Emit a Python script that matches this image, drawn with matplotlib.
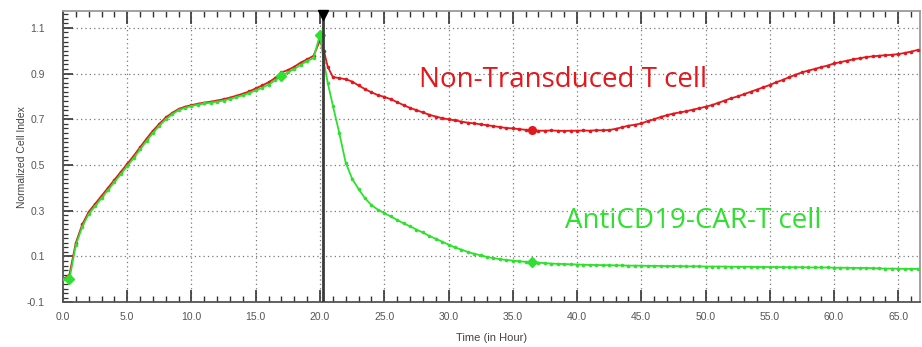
import matplotlib
matplotlib.use("Agg")
import matplotlib.pyplot as plt
from matplotlib.ticker import MultipleLocator, FixedLocator
import numpy as np

# time points (hours)
time_pre = [0.0, 0.5, 1.0, 1.5, 2.0, 2.5, 3.0, 3.5, 4.0, 4.5,
            5.0, 5.5, 6.0, 6.5, 7.0, 7.5, 8.0, 8.5, 9.0, 9.5,
            10.0, 10.5, 11.0, 11.5, 12.0, 12.5, 13.0, 13.5, 14.0, 14.5,
            15.0, 15.5, 16.0, 16.5, 17.0, 17.5, 18.0, 18.5, 19.0, 19.5, 20.0]
time_post = [20.3, 20.6, 21.0, 21.5, 22.0, 22.5, 23.0, 23.5, 24.0, 24.5,
             25.0, 25.5, 26.0, 26.5, 27.0, 27.5, 28.0, 28.5, 29.0, 29.5,
             30.0, 30.5, 31.0, 31.5, 32.0, 32.5, 33.0, 33.5, 34.0, 34.5,
             35.0, 35.5, 36.0, 36.5, 37.0, 37.5, 38.0, 38.5, 39.0, 39.5,
             40.0, 40.5, 41.0, 41.5, 42.0, 42.5, 43.0, 43.5, 44.0, 44.5,
             45.0, 45.5, 46.0, 46.5, 47.0, 47.5, 48.0, 48.5, 49.0, 49.5,
             50.0, 50.5, 51.0, 51.5, 52.0, 52.5, 53.0, 53.5, 54.0, 54.5,
             55.0, 55.5, 56.0, 56.5, 57.0, 57.5, 58.0, 58.5, 59.0, 59.5,
             60.0, 60.5, 61.0, 61.5, 62.0, 62.5, 63.0, 63.5, 64.0, 64.5,
             65.0, 65.5, 66.0, 66.5]

# Non-Transduced T cell
red_pre = [0.00, 0.02, 0.16, 0.24, 0.295, 0.33, 0.365, 0.40, 0.435, 0.47,
           0.505, 0.54, 0.578, 0.615, 0.65, 0.68, 0.708, 0.728, 0.745, 0.755,
           0.762, 0.768, 0.773, 0.777, 0.782, 0.788, 0.795, 0.803, 0.812, 0.822,
           0.835, 0.848, 0.862, 0.88, 0.905, 0.915, 0.93, 0.948, 0.962, 0.978, 1.045]
red_post = [1.00, 0.93, 0.885, 0.88, 0.875, 0.865, 0.848, 0.832, 0.818, 0.806,
            0.798, 0.788, 0.775, 0.762, 0.75, 0.74, 0.73, 0.72, 0.712, 0.705,
            0.70, 0.695, 0.69, 0.685, 0.682, 0.678, 0.674, 0.67, 0.666, 0.662,
            0.66, 0.657, 0.654, 0.652, 0.65, 0.65, 0.651, 0.65, 0.649, 0.65,
            0.65, 0.651, 0.65, 0.652, 0.652, 0.653, 0.658, 0.665, 0.672, 0.676,
            0.682, 0.692, 0.70, 0.71, 0.718, 0.725, 0.73, 0.735, 0.742, 0.748,
            0.755, 0.762, 0.772, 0.782, 0.792, 0.80, 0.81, 0.82, 0.83, 0.84,
            0.85, 0.862, 0.872, 0.884, 0.895, 0.905, 0.913, 0.92, 0.928, 0.935,
            0.944, 0.95, 0.956, 0.962, 0.967, 0.972, 0.975, 0.978, 0.98, 0.982,
            0.985, 0.99, 0.996, 1.003]

# AntiCD19-CAR-T cell
green_pre = [0.00, 0.00, 0.15, 0.23, 0.285, 0.32, 0.355, 0.39, 0.425, 0.46,
             0.495, 0.53, 0.568, 0.605, 0.64, 0.672, 0.70, 0.722, 0.74, 0.75,
             0.758, 0.764, 0.769, 0.773, 0.777, 0.782, 0.789, 0.797, 0.805, 0.815,
             0.826, 0.838, 0.852, 0.87, 0.89, 0.905, 0.92, 0.938, 0.955, 0.968, 1.07]
green_post = [0.95, 0.86, 0.76, 0.64, 0.51, 0.44, 0.395, 0.355, 0.325, 0.305,
              0.29, 0.275, 0.26, 0.245, 0.232, 0.218, 0.205, 0.19, 0.178, 0.165,
              0.152, 0.14, 0.13, 0.12, 0.112, 0.105, 0.098, 0.093, 0.088, 0.085,
              0.082, 0.079, 0.077, 0.075, 0.073, 0.071, 0.069, 0.068, 0.067, 0.066,
              0.065, 0.064, 0.063, 0.063, 0.062, 0.062, 0.061, 0.061, 0.060, 0.060,
              0.060, 0.059, 0.059, 0.059, 0.058, 0.058, 0.058, 0.057, 0.057, 0.057,
              0.056, 0.056, 0.056, 0.056, 0.055, 0.055, 0.055, 0.055, 0.054, 0.054,
              0.054, 0.054, 0.053, 0.053, 0.053, 0.053, 0.052, 0.052, 0.052, 0.052,
              0.051, 0.051, 0.051, 0.050, 0.050, 0.050, 0.049, 0.048, 0.047, 0.047,
              0.047, 0.046, 0.046, 0.046]

treat_time = 20.2
x_ticks = [0, 5, 10, 15, 20, 25, 30, 35, 40, 45, 50, 55, 60, 65]
y_ticks = [-0.1, 0.1, 0.3, 0.5, 0.7, 0.9, 1.1]

time = np.array(time_pre + time_post)
red = np.array(red_pre + red_post)
green = np.array(green_pre + green_post)

plt.rcParams['font.family'] = ['Liberation Sans', 'DejaVu Sans']

fig = plt.figure(figsize=(9.22, 3.47), dpi=100)
ax = fig.add_axes([0.0683, 0.129, 0.9297, 0.839])

red_c = "#e3171c"
green_c = "#2fe02f"
ax.plot(time, red, "-", color=red_c, lw=1.3, marker="o", markersize=2.6,
        markeredgewidth=0, zorder=3)
ax.plot(time, green, "-", color=green_c, lw=1.3, marker="o", markersize=2.6,
        markeredgewidth=0, zorder=4)
# highlighted points
ax.plot([36.5], [0.652], "o", color=red_c, markersize=5.5, zorder=5)
ax.plot([36.5, 17.0, 20.0, 0.5], [0.075, 0.89, 1.07, 0.00], "D", color=green_c,
        markersize=5, zorder=5)

ax.axvline(treat_time, color="#3a3a3a", lw=2.0, zorder=6)
ax.plot([treat_time], [1.158], marker="v", color="black", markersize=7,
        clip_on=False, zorder=7)

ax.set_xlim(0, 66.7)
ax.set_ylim(-0.1, 1.173)
ax.xaxis.set_major_locator(FixedLocator(x_ticks))
ax.xaxis.set_minor_locator(MultipleLocator(1))
ax.yaxis.set_major_locator(FixedLocator(y_ticks))
ax.yaxis.set_minor_locator(MultipleLocator(0.02))
ax.set_xticklabels([f"{v:.1f}" for v in x_ticks])
ax.set_yticklabels([f"{v:.1f}" for v in y_ticks])

ax.grid(True, which="major", linestyle=(0, (1, 2.5)), color="#7a7a7a", lw=0.9)
ax.tick_params(axis="x", which="both", direction="in", top=True, bottom=True,
               colors="#333333", labelcolor="#555555", labelsize=7.5, pad=7)
ax.tick_params(axis="x", which="major", length=9, width=1.2)
ax.tick_params(axis="x", which="minor", length=4.5, width=1.0)
ax.tick_params(axis="y", which="both", direction="in", left=True, right=False,
               colors="#333333", labelcolor="#555555", labelsize=7.5, pad=13)
ax.tick_params(axis="y", which="major", length=7, width=1.2)
ax.tick_params(axis="y", which="minor", length=3.5, width=0.9)

for side in ["top", "right"]:
    ax.spines[side].set_color("#9a9a9a")
    ax.spines[side].set_linewidth(1.3)
for side in ["left", "bottom"]:
    ax.spines[side].set_color("#555555")
    ax.spines[side].set_linewidth(1.3)

ax.set_xlabel("Time (in Hour)", fontsize=8, color="#444444", labelpad=8)
ax.set_ylabel("Normalized Cell Index", fontsize=7.5, color="#444444", labelpad=0)

ax.text(27.7, 0.84, "Non-Transduced T cell", color=red_c, fontsize=20,
        family=["Open Sans", "DejaVu Sans"], zorder=8)
ax.text(39.1, 0.223, "AntiCD19-CAR-T cell", color=green_c, fontsize=20,
        family=["Open Sans", "DejaVu Sans"], zorder=8)

fig.savefig("out.png", dpi=100)
